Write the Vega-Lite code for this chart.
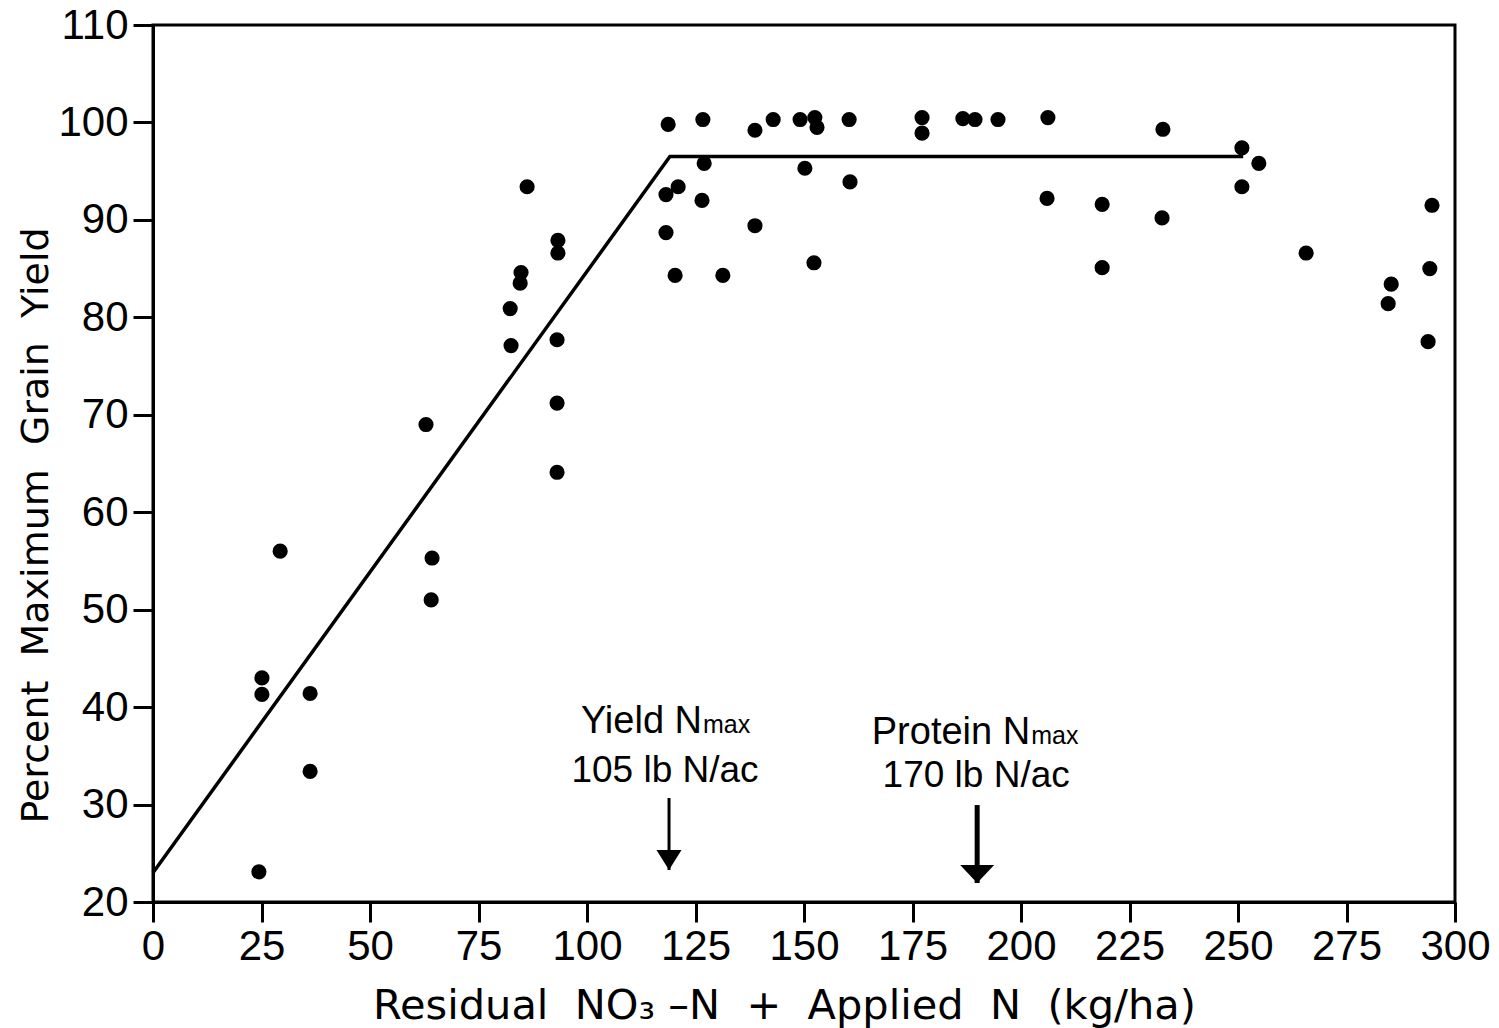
{
  "$schema": "https://vega.github.io/schema/vega-lite/v6.json",
  "width": 1302,
  "height": 877,
  "autosize": "none",
  "padding": {"left": 153, "top": 25, "right": 44, "bottom": 126},
  "background": "white",
  "config": {
    "view": {"stroke": "black", "strokeWidth": 3},
    "axis": {
      "domainColor": "black",
      "domainWidth": 3,
      "tickColor": "black",
      "tickWidth": 3,
      "tickSize": 20,
      "grid": false,
      "labelFont": "Liberation Sans",
      "labelFontSize": 42,
      "labelColor": "black",
      "labelFlush": false,
      "labelOverlap": false,
      "labelBound": false,
      "titleFont": "DejaVu Sans",
      "titleFontWeight": "normal",
      "titleColor": "black"
    }
  },
  "datasets": {
    "obs": [
      {"n": 25.1, "pct": 43.0}, {"n": 25.1, "pct": 41.3}, {"n": 24.4, "pct": 23.1},
      {"n": 29.3, "pct": 56.0}, {"n": 36.2, "pct": 41.4}, {"n": 36.2, "pct": 33.4},
      {"n": 62.9, "pct": 69.0}, {"n": 64.3, "pct": 55.3}, {"n": 64.1, "pct": 51.0},
      {"n": 86.2, "pct": 93.4}, {"n": 93.3, "pct": 87.9}, {"n": 93.3, "pct": 86.6},
      {"n": 84.8, "pct": 84.6}, {"n": 84.6, "pct": 83.5}, {"n": 82.3, "pct": 80.9},
      {"n": 82.5, "pct": 77.1}, {"n": 93.1, "pct": 77.7}, {"n": 93.1, "pct": 71.2},
      {"n": 93.1, "pct": 64.1},
      {"n": 118.7, "pct": 99.8}, {"n": 126.7, "pct": 100.3}, {"n": 138.7, "pct": 99.2},
      {"n": 142.9, "pct": 100.3}, {"n": 149.1, "pct": 100.3}, {"n": 152.5, "pct": 100.5},
      {"n": 153.0, "pct": 99.5}, {"n": 160.4, "pct": 100.3}, {"n": 127.0, "pct": 95.8},
      {"n": 150.2, "pct": 95.3}, {"n": 118.2, "pct": 92.6}, {"n": 121.0, "pct": 93.4},
      {"n": 126.5, "pct": 92.0}, {"n": 160.6, "pct": 93.9}, {"n": 118.2, "pct": 88.7},
      {"n": 138.7, "pct": 89.4}, {"n": 120.3, "pct": 84.3}, {"n": 131.3, "pct": 84.3},
      {"n": 152.3, "pct": 85.6},
      {"n": 177.2, "pct": 100.5}, {"n": 177.2, "pct": 98.9}, {"n": 186.6, "pct": 100.4},
      {"n": 189.4, "pct": 100.3}, {"n": 194.7, "pct": 100.3}, {"n": 206.2, "pct": 100.5},
      {"n": 232.7, "pct": 99.3}, {"n": 250.9, "pct": 97.4}, {"n": 254.8, "pct": 95.8},
      {"n": 250.9, "pct": 93.4}, {"n": 206.0, "pct": 92.2}, {"n": 218.7, "pct": 91.6},
      {"n": 232.5, "pct": 90.2}, {"n": 218.7, "pct": 85.1}, {"n": 265.7, "pct": 86.6},
      {"n": 294.7, "pct": 91.5}, {"n": 294.2, "pct": 85.0}, {"n": 293.8, "pct": 77.5},
      {"n": 285.3, "pct": 83.4}, {"n": 284.6, "pct": 81.4}
    ],
    "fit": [
      {"n": 0, "pct": 23.0},
      {"n": 119.1, "pct": 96.5},
      {"n": 251.2, "pct": 96.5}
    ],
    "nmax": [
      {"label": "Yield", "n": 118.9, "top": 30.67, "tip": 23.28, "head": "Yield N", "sub": "max", "rate": "105 lb N/ac"},
      {"label": "Protein", "n": 189.9, "top": 29.95, "tip": 21.95, "head": "Protein N", "sub": "max", "rate": "170 lb N/ac"}
    ]
  },
  "layer": [
    {
      "data": {"name": "fit"},
      "mark": {"type": "line", "color": "black", "strokeWidth": 3.5},
      "encoding": {
        "x": {
          "field": "n", "type": "quantitative",
          "scale": {"domain": [0, 300], "nice": false, "zero": false},
          "title": "Residual\u00a0 NO₃ –N\u00a0 +\u00a0 Applied\u00a0 N\u00a0 (kg/ha)",
          "axis": {
            "values": [0, 25, 50, 75, 100, 125, 150, 175, 200, 225, 250, 275, 300],
            "labelPadding": 4,
            "titleFontSize": 41.5,
            "titleX": 631,
            "titleY": 116,
            "titleBaseline": "alphabetic"
          }
        },
        "y": {
          "field": "pct", "type": "quantitative",
          "scale": {"domain": [20, 110], "nice": false, "zero": false},
          "title": "Percent\u00a0 Maximum\u00a0 Grain\u00a0 Yield",
          "axis": {
            "values": [20, 30, 40, 50, 60, 70, 80, 90, 100, 110],
            "labelPadding": 5,
            "titleFontSize": 38,
            "titleX": -106,
            "titleY": 500,
            "titleAngle": -90,
            "titleAlign": "center",
            "titleBaseline": "alphabetic"
          }
        }
      }
    },
    {
      "data": {"name": "obs"},
      "mark": {"type": "point", "shape": "circle", "filled": true, "color": "black", "opacity": 1, "size": 230},
      "encoding": {
        "x": {"field": "n", "type": "quantitative", "scale": {"domain": [0, 300], "nice": false, "zero": false}, "title": "Residual\u00a0 NO₃ –N\u00a0 +\u00a0 Applied\u00a0 N\u00a0 (kg/ha)"},
        "y": {"field": "pct", "type": "quantitative", "scale": {"domain": [20, 110], "nice": false, "zero": false}, "title": "Percent\u00a0 Maximum\u00a0 Grain\u00a0 Yield"}
      }
    },
    {
      "data": {"name": "nmax"},
      "transform": [{"filter": "datum.label === 'Yield'"}],
      "layer": [
        {
          "mark": {"type": "rule", "color": "black", "strokeWidth": 3},
          "encoding": {
            "x": {"field": "n", "type": "quantitative", "scale": {"domain": [0, 300], "nice": false, "zero": false}, "title": "Residual\u00a0 NO₃ –N\u00a0 +\u00a0 Applied\u00a0 N\u00a0 (kg/ha)"},
            "y": {"field": "top", "type": "quantitative", "scale": {"domain": [20, 110], "nice": false, "zero": false}, "title": "Percent\u00a0 Maximum\u00a0 Grain\u00a0 Yield"},
            "y2": {"field": "tip"}
          }
        },
        {
          "mark": {"type": "point", "shape": "M-1,-1.6L1,-1.6L0,0Z", "filled": true, "color": "black", "opacity": 1, "size": 625},
          "encoding": {
            "x": {"field": "n", "type": "quantitative"},
            "y": {"field": "tip", "type": "quantitative"}
          }
        },
        {
          "mark": {"type": "text", "font": "Liberation Sans", "fontSize": 38, "color": "black", "align": "right", "baseline": "alphabetic", "dx": 33, "dy": -65},
          "encoding": {
            "x": {"field": "n", "type": "quantitative"},
            "y": {"field": "top", "type": "quantitative"},
            "text": {"field": "head"}
          }
        },
        {
          "mark": {"type": "text", "font": "Liberation Sans", "fontSize": 25, "color": "black", "align": "left", "baseline": "alphabetic", "dx": 34, "dy": -65},
          "encoding": {
            "x": {"field": "n", "type": "quantitative"},
            "y": {"field": "top", "type": "quantitative"},
            "text": {"field": "sub"}
          }
        },
        {
          "mark": {"type": "text", "font": "Liberation Sans", "fontSize": 37, "color": "black", "align": "center", "baseline": "alphabetic", "dx": -4, "dy": -16},
          "encoding": {
            "x": {"field": "n", "type": "quantitative"},
            "y": {"field": "top", "type": "quantitative"},
            "text": {"field": "rate"}
          }
        }
      ]
    },
    {
      "data": {"name": "nmax"},
      "transform": [{"filter": "datum.label === 'Protein'"}],
      "layer": [
        {
          "mark": {"type": "rule", "color": "black", "strokeWidth": 5},
          "encoding": {
            "x": {"field": "n", "type": "quantitative", "scale": {"domain": [0, 300], "nice": false, "zero": false}, "title": "Residual\u00a0 NO₃ –N\u00a0 +\u00a0 Applied\u00a0 N\u00a0 (kg/ha)"},
            "y": {"field": "top", "type": "quantitative", "scale": {"domain": [20, 110], "nice": false, "zero": false}, "title": "Percent\u00a0 Maximum\u00a0 Grain\u00a0 Yield"},
            "y2": {"field": "tip"}
          }
        },
        {
          "mark": {"type": "point", "shape": "M-1,-1.06L1,-1.06L0,0Z", "filled": true, "color": "black", "opacity": 1, "size": 1156},
          "encoding": {
            "x": {"field": "n", "type": "quantitative"},
            "y": {"field": "tip", "type": "quantitative"}
          }
        },
        {
          "mark": {"type": "text", "font": "Liberation Sans", "fontSize": 38, "color": "black", "align": "right", "baseline": "alphabetic", "dx": 53, "dy": -61},
          "encoding": {
            "x": {"field": "n", "type": "quantitative"},
            "y": {"field": "top", "type": "quantitative"},
            "text": {"field": "head"}
          }
        },
        {
          "mark": {"type": "text", "font": "Liberation Sans", "fontSize": 25, "color": "black", "align": "left", "baseline": "alphabetic", "dx": 54, "dy": -61},
          "encoding": {
            "x": {"field": "n", "type": "quantitative"},
            "y": {"field": "top", "type": "quantitative"},
            "text": {"field": "sub"}
          }
        },
        {
          "mark": {"type": "text", "font": "Liberation Sans", "fontSize": 37, "color": "black", "align": "center", "baseline": "alphabetic", "dx": -1, "dy": -18},
          "encoding": {
            "x": {"field": "n", "type": "quantitative"},
            "y": {"field": "top", "type": "quantitative"},
            "text": {"field": "rate"}
          }
        }
      ]
    }
  ]
}
